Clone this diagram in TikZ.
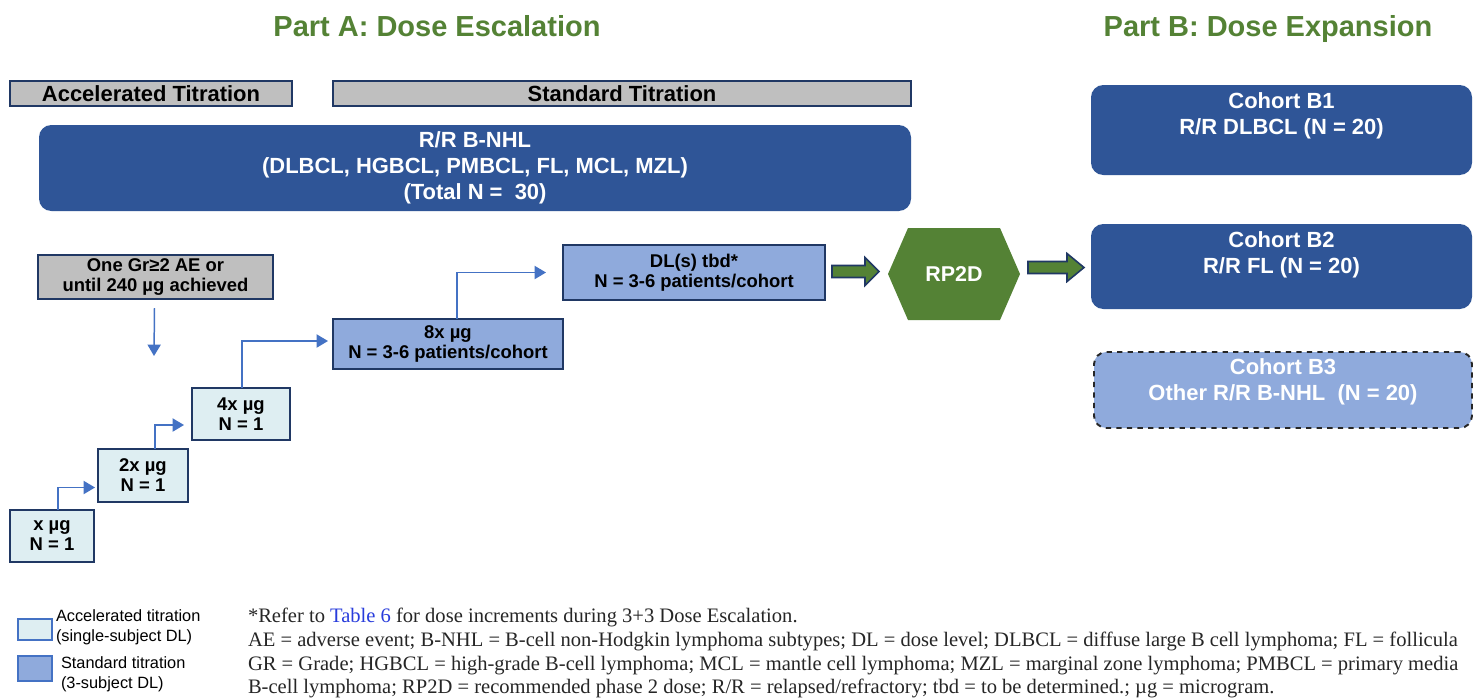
\documentclass[tikz,border=0pt]{standalone}
\usepackage{fontspec}
\setmainfont{Liberation Sans}
\newfontfamily\fnserif{Liberation Serif}
\usetikzlibrary{arrows.meta,calc}
\definecolor{dkblue}{RGB}{47,85,151}
\definecolor{navy}{RGB}{32,56,100}
\definecolor{medblue}{RGB}{143,170,220}
\definecolor{ltcyan}{RGB}{222,238,242}
\definecolor{gry}{RGB}{191,191,191}
\definecolor{grn}{RGB}{84,130,53}
\definecolor{arrblue}{RGB}{68,114,196}
\definecolor{tblue}{RGB}{40,60,220}
\newcommand{\bx}[7]{\node[#6, minimum width={(#4-#2)*0.02cm}, minimum height={(#5-#3)*0.02cm}] (#1) at ({(#2+#4)/2},{(#3+#5)/2}) {#7};}
\begin{document}
\begin{tikzpicture}[x=0.02cm, y=-0.02cm,
  every node/.style={inner sep=0pt, outer sep=0pt, align=center},
  title/.style={anchor=base, text=grn, font=\bfseries\fontsize{16.5}{19}\selectfont},
  hdr/.style={draw=navy, fill=gry, line width=1.1pt, font=\bfseries\fontsize{12.5}{15}\selectfont},
  bigb/.style={fill=dkblue, rounded corners=7pt, text=white, font=\bfseries\fontsize{12.5}{14.8}\selectfont},
  cohb/.style={fill=dkblue, rounded corners=7pt},
  coh3/.style={fill=medblue, draw=black!85, dashed, line width=1.1pt, rounded corners=7pt},
  cohtxt/.style={text=white, font=\bfseries\fontsize{12.5}{14.8}\selectfont},
  grayb/.style={draw=navy, fill=gry, line width=1.1pt, font=\bfseries\fontsize{10.5}{11.6}\selectfont},
  accb/.style={draw=navy, fill=ltcyan, line width=1.1pt, font=\bfseries\fontsize{10.5}{11.4}\selectfont},
  stdb/.style={draw=navy, fill=medblue, line width=1.1pt, font=\bfseries\fontsize{10.5}{11.6}\selectfont},
  rpst/.style={text=white, font=\bfseries\fontsize{12.2}{14}\selectfont,
    path picture={\fill[grn] (path picture bounding box.west)
      -- ([xshift=0.4cm]path picture bounding box.north west)
      -- ([xshift=-0.4cm]path picture bounding box.north east)
      -- (path picture bounding box.east)
      -- ([xshift=-0.4cm]path picture bounding box.south east)
      -- ([xshift=0.4cm]path picture bounding box.south west) -- cycle;}},
  stair/.style={draw=arrblue, line width=0.85pt, -{Triangle[length=6.5pt,width=7.5pt]}},
  gblk/.style={fill=grn, draw=navy, line width=0.9pt, line join=miter},
  legacc/.style={draw=arrblue, fill=ltcyan, line width=1.1pt},
  legstd/.style={draw=arrblue, fill=medblue, line width=1.1pt},
  legtxt/.style={align=left, font=\fontsize{9.3}{11.4}\selectfont},
  fn/.style={anchor=base west, font=\fnserif\fontsize{11.7}{13}\selectfont, text=black!85}]
\useasboundingbox (0,0) rectangle (1476,697);
\clip (0,0) rectangle (1476,697);
\fill[white] (0,0) rectangle (1476,697);

% titles
\node[title] (ta) at (437,36) {Part A: Dose Escalation};
\node[title] (tb) at (1268,36) {Part B: Dose Expansion};

% headers
\bx{acc}{10}{81}{292}{106}{hdr}{Accelerated Titration}
\bx{std}{333}{81}{911}{106}{hdr}{Standard Titration}
\bx{nhl}{39}{125}{911}{211}{bigb}{R/R B-NHL\\(DLBCL, HGBCL, PMBCL, FL, MCL, MZL)\\(Total N =\ \ 30)}

% escalation
\bx{gr}{38}{255}{273}{299}{grayb}{One Gr≥2 AE or\\until 240 µg achieved}
\coordinate (grend) at (154,356);
\bx{d1}{10}{510}{94}{562}{accb}{x µg\\N = 1}
\bx{d2}{98}{449}{188}{502}{accb}{2x µg\\N = 1}
\bx{d3}{192}{388}{290}{440}{accb}{4x µg\\N = 1}
\bx{d4}{333}{319}{563}{369}{stdb}{8x µg\\N = 3-6 patients/cohort}
\bx{d5}{563}{245}{825}{300}{stdb}{DL(s) tbd*\\N = 3-6 patients/cohort}

\draw[stair] ($(gr.south)+(-1,9)$) -- (grend);
\draw[stair] ($(d1.north)+(6,0)$) |- ($(d2.west)+(-3,12)$);
\draw[stair] ($(d2.north)+(12,0)$) |- ($(d3.west)+(-8,11)$);
\draw[stair] ($(d3.north)+(1,0)$) |- ($(d4.west)+(-5,-3)$);
\draw[stair] ($(d4.north)+(9,0)$) |- ($(d5.west)+(-17,0)$);

% RP2D
\bx{rp}{888}{228}{1020}{320}{rpst}{RP2D}

% expansion cohorts
\bx{b1}{1091}{85}{1472}{175}{cohb}{}
\bx{b2}{1091}{224}{1472}{309}{cohb}{}
\bx{b3}{1094}{352}{1472}{428}{coh3}{}
\node[cohtxt] (b1t) at ($(b1.north)+(0,31)$) {Cohort B1\\R/R DLBCL (N = 20)};
\node[cohtxt] (b2t) at ($(b2.north)+(0,31)$) {Cohort B2\\R/R FL (N = 20)};
\node[cohtxt] (b3t) at ($(b3.north)+(0,30)$) {Cohort B3\\Other R/R B-NHL\ \ (N = 20)};

% green block arrows
\coordinate (a1s) at ($(d5.east)+(7,-1)$);
\coordinate (t1) at ($(rp.west)+(-9,0)$);
\coordinate (a1e) at (t1 |- a1s);
\draw[gblk] ($(a1s)+(0,-6)$) -- ($(a1e)+(-14,-6)$) -- ($(a1e)+(-14,-14)$) -- (a1e)
  -- ($(a1e)+(-14,14)$) -- ($(a1e)+(-14,6)$) -- ($(a1s)+(0,6)$) -- cycle;
\coordinate (t2) at ($(rp.east)+(8,0)$);
\coordinate (a2e) at ($(b2.west)+(-7,1)$);
\coordinate (a2s) at (t2 |- a2e);
\draw[gblk] ($(a2s)+(0,-6)$) -- ($(a2e)+(-17,-6)$) -- ($(a2e)+(-17,-14)$) -- (a2e)
  -- ($(a2e)+(-17,14)$) -- ($(a2e)+(-17,6)$) -- ($(a2s)+(0,6)$) -- cycle;

% legend
\bx{lg1}{18}{619}{52}{640}{legacc}{}
\bx{lg2}{18}{656}{52}{681}{legstd}{}
\node[legtxt, anchor=west] (lg1t) at (56,627) {Accelerated titration\\(single-subject DL)};
\node[legtxt, anchor=west] (lg2t) at (61,674) {Standard titration\\(3-subject DL)};

% footnotes
\node[fn] (fn1) at (248,622) {*Refer to \textcolor{tblue}{Table 6} for dose increments during 3+3 Dose Escalation.};
\node[fn] (fn2) at (248,646) {AE = adverse event; B-NHL = B-cell non-Hodgkin lymphoma subtypes; DL = dose level; DLBCL = diffuse large B cell lymphoma; FL = follicula};
\node[fn] (fn3) at (248,670) {GR = Grade; HGBCL = high-grade B-cell lymphoma; MCL = mantle cell lymphoma; MZL = marginal zone lymphoma; PMBCL = primary media};
\node[fn] (fn4) at (248,693) {B-cell lymphoma; RP2D = recommended phase 2 dose; R/R = relapsed/refractory; tbd = to be determined.; µg = microgram.};
\end{tikzpicture}
\end{document}
